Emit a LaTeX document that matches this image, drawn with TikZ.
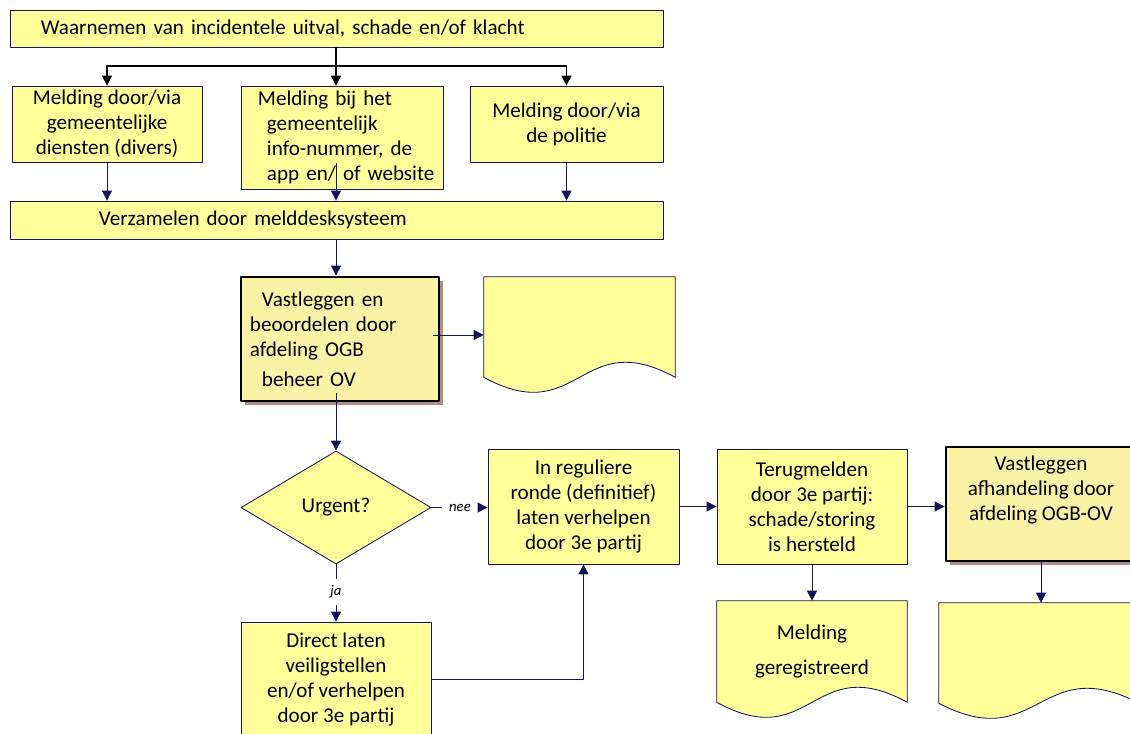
\documentclass[tikz,border=0pt]{standalone}
\usepackage{fontspec}
\setmainfont{Carlito}
\usetikzlibrary{arrows.meta,shapes.geometric,shadows,calc,backgrounds}
\definecolor{lnblue}{RGB}{20,20,90}
\definecolor{boxyel}{RGB}{255,255,153}
\definecolor{ogbyel}{RGB}{250,243,165}
\definecolor{shadowc}{RGB}{176,140,140}
\newcommand{\boxfont}{\fontsize{15}{17.8}\selectfont}
% document-vorm met golvende onderkant
\newcommand{\docvorm}[1]{\path[docline] (#1.south west) -- (#1.north west) -- (#1.north east) -- (#1.south east) .. controls ($(#1.south)+(0,-52)$) and ($(#1.south)+(0,52)$) .. (#1.south west) -- cycle;}
\tikzset{
  proc/.style={draw=lnblue, fill=boxyel, line width=0.6pt, inner sep=0pt, align=center},
  ogbbox/.style={proc, draw=black, line width=2pt, fill=ogbyel, drop shadow={shadow xshift=0.1cm, shadow yshift=-0.1cm, fill=shadowc, opacity=1}},
  beslis/.style={proc, diamond, minimum width=4.75cm, minimum height=2.825cm},
  doc/.style={inner sep=0pt, align=center},
  docline/.style={draw=lnblue, fill=boxyel, line width=0.6pt},
  tak/.style={font=\fontsize{10.5}{12}\selectfont\itshape, inner sep=0pt},
  pijl/.style={draw=lnblue, line width=0.7pt, ->},
  fork/.style={draw=black, line width=1.1pt},
}
\begin{document}
\begin{tikzpicture}[x=0.025cm, y=-0.025cm, >={Triangle[length=0.25cm,width=0.25cm]}, line join=round, font=\boxfont]
\useasboundingbox (0,0) rectangle (1130,733);
\clip (0,0) rectangle (1130,733);
% bovenste rij
\node[proc, minimum width=16.3cm, minimum height=0.925cm, text width=14.8cm, inner xsep=0.75cm, align=left] (top) at (337,28.5) {Waarnemen van incidentele uitval, schade en/of klacht};
\node[proc, minimum width=4.75cm, minimum height=1.9cm] (ml) at (107,124) {Melding door/via\\gemeentelijke\\diensten (divers)};
\node[proc, minimum width=5.05cm, minimum height=2.575cm, text width=4.9cm, inner xsep=0.075cm, align=left] (mm) at (342,137.5) {\hspace*{0.35cm}Melding bij het\\\hspace*{0.575cm}gemeentelijk\\\hspace*{0.575cm}info-nummer, de\\\hspace*{0.575cm}app en/ of website};
\node[proc, minimum width=4.825cm, minimum height=1.9cm] (mr) at (566.5,124) {Melding door/via\\de politie};
\node[proc, minimum width=16.3cm, minimum height=0.95cm, text width=11.9cm, inner xsep=2.2cm, align=left] (ver) at (337,220) {Verzamelen door melddesksysteem};
% vastleggen
\node[ogbbox, minimum width=4.95cm, minimum height=3.1cm, text width=4.5cm, inner xsep=0.225cm, align=left] (ogb) at (340,339) {\hspace*{0.3cm}Vastleggen en\\beoordelen door\\afdeling OGB\\[0.125cm]\hspace*{0.3cm}beheer OV};
\node[doc, minimum width=4.775cm, minimum height=2.5cm] (d1) at (579.5,327) {};
% beslissing
\node[beslis] (urg) at (336,507.5) {Urgent?};
\node[tak, minimum width=0.9cm] (nee) at (460,507.5) {nee};
\node[tak, minimum height=0.65cm] (ja) at (336,592) {ja};
\node[proc, minimum width=4.775cm, minimum height=2.875cm] (reg) at (583.5,506.5) {In reguliere\\ronde (definitief)\\laten verhelpen\\door 3e partij};
\node[proc, minimum width=4.75cm, minimum height=2.875cm] (dir) at (336,679.5) {Direct laten\\veiligstellen\\en/of verhelpen\\door 3e partij};
\node[proc, minimum width=4.75cm, minimum height=2.875cm] (ter) at (812,506.5) {Terugmelden\\door 3e partij:\\schade/storing\\is hersteld};
\node[ogbbox, minimum width=4.75cm, minimum height=2.85cm] (vaf) at (1041,504) {Vastleggen\\afhandeling door\\afdeling OGB-OV\\\strut};
\node[doc, minimum width=4.75cm, minimum height=2.525cm] (d2) at (812,651.5) {Melding\\[0.25cm]geregistreerd};
\node[doc, minimum width=5cm, minimum height=2.5cm] (d3) at (1039,653) {};
\begin{scope}[on background layer]
  \docvorm{d1} \docvorm{d2} \docvorm{d3}
\end{scope}
% verbindingen
\coordinate (fk) at (336,66);
\draw[fork] (top.south -| fk) -- (fk);
\draw[fork,->] (fk) -| (ml.north);
\draw[fork,->] (fk) -| (mr.north);
\draw[fork,->] (fk) -- (fk |- mm.north);
\draw[pijl] (ml.south) -- (ml.south |- ver.north);
\draw[pijl] ($(mm.south -| fk)+(0,-26)$) -- (fk |- ver.north);
\draw[pijl] (mr.south) -- (mr.south |- ver.north);
\draw[pijl] (fk |- ver.south) -- (fk |- ogb.north);
\draw[pijl] ($(ogb.east)+(-7,-4)$) -- ($(d1.west)+(0,8)$);
\draw[pijl] ($(fk |- ogb.south)+(0,-9)$) -- (urg.north);
\draw[pijl,-] (urg.east) -- (nee.west);
\draw[pijl] (nee.east) -- (nee.east -| reg.west);
\draw[pijl,-] (urg.south) -- (ja.north);
\draw[pijl] (ja.south) -- (dir.north);
\draw[pijl] (dir.east) -| (reg.south);
\draw[pijl] (reg.east) -- (ter.west);
\draw[pijl] (ter.east) -- (ter.east -| vaf.west);
\draw[pijl] (ter.south) -- (d2.north);
\draw[pijl] (vaf.south) -- (vaf.south |- d3.north);
\end{tikzpicture}
\end{document}
